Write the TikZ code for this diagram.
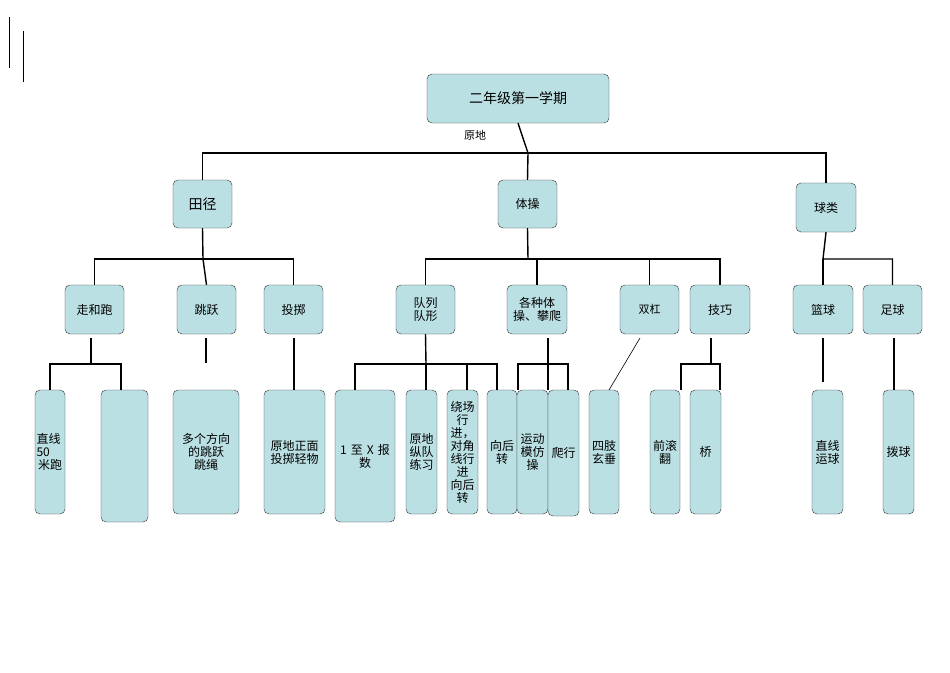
\documentclass[tikz,border=0pt]{standalone}
\usepackage{fontspec}
\setmainfont{Liberation Serif}
\newfontfamily\cjk{Noto Sans CJK SC}
\definecolor{boxfill}{HTML}{BBE0E3}
\tikzset{box/.style={draw=black!80,fill=boxfill,rounded corners=5pt,inner sep=1pt,align=center,font=\cjk\fontsize{12}{13}\selectfont},
ln/.style={line width=1.4pt},
thin/.style={line width=0.6pt}}
\newcommand{\mybox}[6]{\node[box,minimum width={(#4-#2)*1pt},minimum height={(#5-#3)*1pt},text width={(#4-#2-3)*1pt}] (#1) at ({(#2+#4)/2},{(#3+#5)/2}) {#6};}
\begin{document}
\begin{tikzpicture}[x=1pt,y=-1pt]
\useasboundingbox (0,0) rectangle (950,672);
\draw[thin] (9,17)--(9,68); \draw[thin] (23,31)--(23,82);
\mybox{root}{427}{74}{609}{123}{\fontsize{14}{16}\selectfont 二年级第一学期}
\node[font=\cjk\fontsize{11}{12}\selectfont] (yd) at (475,135) {原地};
\mybox{tj}{173}{180}{232}{228}{\fontsize{14}{16}\selectfont 田径}
\mybox{tc}{498}{180}{557}{228}{体操}
\mybox{ql}{796}{183}{856}{232}{球类}
\mybox{zp}{65}{285}{124}{334}{\raggedright 走和跑}
\mybox{ty}{177}{285}{236}{334}{跳跃}
\mybox{tz}{264}{285}{323}{334}{投掷}
\mybox{dl}{396}{285}{455}{334}{队列\\队形}
\mybox{gz}{507}{285}{567}{334}{各种体\\操、攀爬}
\mybox{sg}{620}{285}{679}{334}{\raggedright\fontsize{11}{12}\selectfont 双杠}
\mybox{jq}{690}{285}{750}{334}{\raggedright 技巧}
\mybox{lq}{793}{285}{853}{334}{篮球}
\mybox{zq}{863}{285}{922}{334}{足球}
\mybox{a1}{35}{390}{65}{514}{\raggedright 直线\\50\\米跑}
\mybox{a2}{101}{390}{148}{522}{}
\mybox{a3}{173}{390}{239}{514}{多个方向\\的跳跃\\跳绳}
\mybox{a4}{264}{390}{325}{514}{原地正面\\投掷轻物}
\mybox{b1}{335}{390}{395}{522}{1 至 X 报\\数}
\mybox{b2}{406}{390}{437}{514}{原地\\纵队\\练习}
\mybox{b3}{447}{390}{478}{514}{绕场\\行\\进，\\对角\\线行\\进\\向后\\转}
\mybox{b4}{487}{390}{517}{514}{向后\\转}
\mybox{c1}{517}{390}{548}{514}{运动\\模仿\\操}
\mybox{c2}{548}{390}{579}{516}{爬行}
\mybox{d1}{589}{390}{619}{514}{四肢\\玄垂}
\mybox{e1}{650}{390}{680}{514}{前滚\\翻}
\mybox{e2}{690}{390}{721}{514}{桥}
\mybox{f1}{812}{390}{843}{514}{直线\\运球}
\mybox{f2}{883}{390}{914}{514}{拨球}
% level 1
\draw[ln] (root.south) -- (528,153);
\draw[ln] (tj.north) |- (528,153) -| (ql.north);
\draw[ln] (528,153) -- (tc.north);
% level 2
\draw[ln] (tj.south) -- (203,259);
\draw[ln] (zp.north) |- (203,259) -| (tz.north); \draw[ln] (203,259) -- (ty.north);
\draw[ln] (tc.south) -- (528,259);
\draw[ln] (dl.north) |- (528,259) -| (jq.north);
\draw[ln] (gz.north |- 0,259) -- (gz.north); \draw[ln] (649.5,259) -- (sg.north);
\draw[ln] (ql.south) -- (823,259) -| (zq.north); \draw[ln] (823,259) -- (lq.north);
% level 3
\draw[ln] (91,338) -- (91,364);
\draw[ln] (a1.north) |- (91,364) -| (121,390);
\draw[ln] (206,338) -- (206,363);
\draw[ln] (294,338) -- (294,390);
\draw[ln] (dl.south) -- (426,364);
\draw[ln] (355,390) |- (426,364) -| (497,390);
\draw[ln] (426,364) -- (426,390); \draw[ln] (467,364) -- (467,390);
\draw[ln] (548,338) -- (548,390);
\draw[ln] (518,390) |- (548,364) -| (568,390);
\draw[thin] (640,338) -- (609,390);
\draw[ln] (711,338) -- (711,364);
\draw[ln] (681,390) |- (711,364) -| (720,390);
\draw[ln] (823,338) -- (823,382);
\draw[ln] (894,338) -- (894,390);
\end{tikzpicture}
\end{document}
